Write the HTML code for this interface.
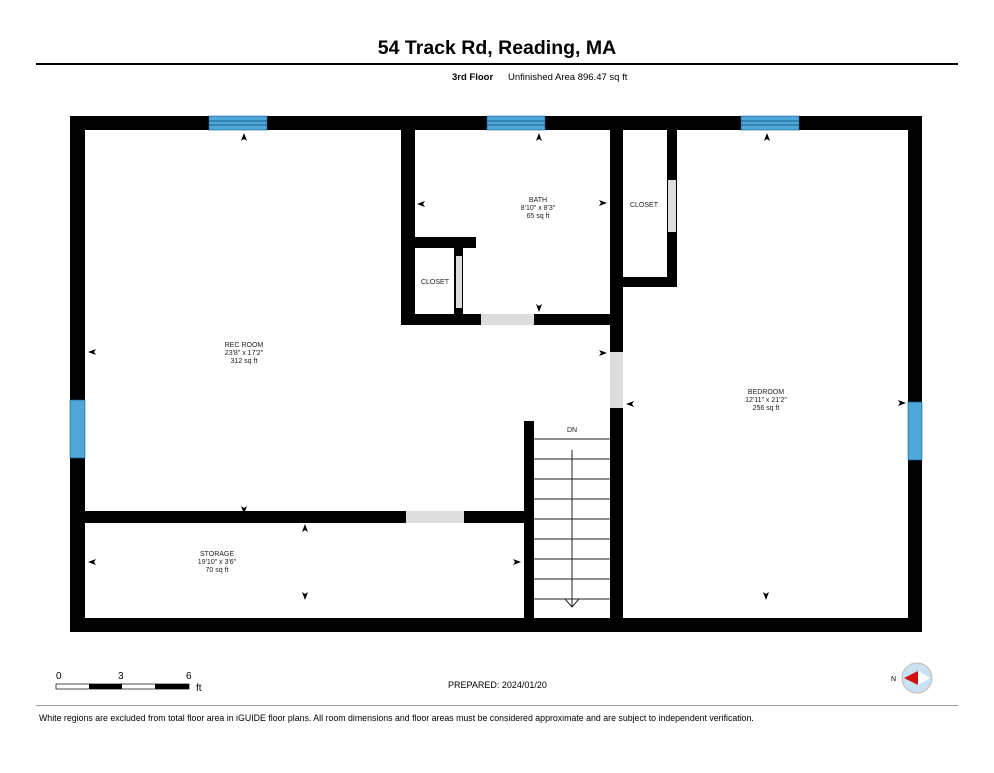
<!DOCTYPE html>
<html><head><meta charset="utf-8"><style>
body{margin:0;background:#fff;width:994px;height:768px;overflow:hidden}
svg text{font-family:"Liberation Sans",sans-serif}
</style></head><body>
<svg width="994" height="768" viewBox="0 0 994 768" xmlns="http://www.w3.org/2000/svg">
<text x="497" y="54" font-size="19.5" font-weight="bold" text-anchor="middle">54 Track Rd, Reading, MA</text>
<rect x="36" y="63" width="922" height="2" fill="#000"/>
<text x="452" y="80" font-size="9.5" font-weight="bold">3rd Floor</text>
<text x="508" y="80" font-size="9.5">Unfinished Area 896.47 sq ft</text>
<g fill="#000">
<rect x="70" y="116" width="852" height="14"/>
<rect x="70" y="618" width="852" height="14"/>
<rect x="70" y="116" width="15" height="516"/>
<rect x="908" y="116" width="14" height="516"/>
<rect x="401" y="130" width="14" height="195"/>
<rect x="401" y="314" width="221" height="11"/>
<rect x="610" y="130" width="13" height="488"/>
<rect x="415" y="237" width="61" height="11"/>
<rect x="454" y="248" width="9" height="66"/>
<rect x="667" y="130" width="10" height="157"/>
<rect x="623" y="277" width="54" height="10"/>
<rect x="85" y="511" width="449" height="12"/>
<rect x="524" y="421" width="10" height="197"/>
</g>
<g fill="#ddd">
<rect x="481" y="314" width="53" height="11"/>
<rect x="610" y="352" width="13" height="56"/>
<rect x="456" y="256" width="6" height="52"/>
<rect x="668" y="180" width="8" height="52"/>
<rect x="406" y="511" width="58" height="12"/>
</g>
<g fill="#4ea6d9" stroke="#1b5f8a" stroke-width="0.6">
<rect x="209" y="116" width="58" height="14"/>
<rect x="487" y="116" width="58" height="14"/>
<rect x="741" y="116" width="58" height="14"/>
<rect x="70" y="400" width="15" height="58"/>
<rect x="908" y="402" width="14" height="58"/>
</g>
<g stroke="#1b5f8a" stroke-width="1">
<line x1="209" y1="121" x2="267" y2="121"/><line x1="209" y1="125" x2="267" y2="125"/>
<line x1="487" y1="121" x2="545" y2="121"/><line x1="487" y1="125" x2="545" y2="125"/>
<line x1="741" y1="121" x2="799" y2="121"/><line x1="741" y1="125" x2="799" y2="125"/>
</g>
<g stroke="#222" stroke-width="1">
<line x1="534" y1="439" x2="610" y2="439"/><line x1="534" y1="459" x2="610" y2="459"/>
<line x1="534" y1="479" x2="610" y2="479"/><line x1="534" y1="499" x2="610" y2="499"/>
<line x1="534" y1="519" x2="610" y2="519"/><line x1="534" y1="539" x2="610" y2="539"/>
<line x1="534" y1="559" x2="610" y2="559"/><line x1="534" y1="579" x2="610" y2="579"/>
<line x1="534" y1="599" x2="610" y2="599"/>
<line x1="572" y1="450" x2="572" y2="607"/>
<polyline points="565,599 572,607 579,599" fill="none"/>
</g>
<g font-size="7" text-anchor="middle" fill="#222">
<text x="572" y="432">DN</text>
<text x="538" y="202">BATH</text><text x="538" y="210">8'10" x 8'3"</text><text x="538" y="218">65 sq ft</text>
<text x="644" y="207">CLOSET</text>
<text x="435" y="284">CLOSET</text>
<text x="244" y="347">REC ROOM</text><text x="244" y="355">23'8" x 17'2"</text><text x="244" y="363">312 sq ft</text>
<text x="766" y="394">BEDROOM</text><text x="766" y="402">12'11" x 21'2"</text><text x="766" y="410">256 sq ft</text>
<text x="217" y="556">STORAGE</text><text x="217" y="564">19'10" x 3'6"</text><text x="217" y="572">70 sq ft</text>
</g>
<g fill="#000">
<path d="M244,133 l-3,8 l3,-2 l3,2z"/><path d="M539,133 l-3,8 l3,-2 l3,2z"/><path d="M767,133 l-3,8 l3,-2 l3,2z"/>
<path d="M305,524 l-3,8 l3,-2 l3,2z"/>
<path d="M539,312 l-3,-8 l3,2 l3,-2z"/><path d="M244,514 l-3,-8 l3,2 l3,-2z"/>
<path d="M305,600 l-3,-8 l3,2 l3,-2z"/><path d="M766,600 l-3,-8 l3,2 l3,-2z"/>
<path d="M88,352 l8,-3 l-2,3 l2,3z"/><path d="M417,204 l8,-3 l-2,3 l2,3z"/>
<path d="M626,404 l8,-3 l-2,3 l2,3z"/><path d="M88,562 l8,-3 l-2,3 l2,3z"/>
<path d="M607,203 l-8,-3 l2,3 l-2,3z"/><path d="M607,353 l-8,-3 l2,3 l-2,3z"/>
<path d="M906,403 l-8,-3 l2,3 l-2,3z"/><path d="M521,562 l-8,-3 l2,3 l-2,3z"/>
</g>
<text x="56" y="679" font-size="10">0</text>
<text x="118" y="679" font-size="10">3</text>
<text x="186" y="679" font-size="10">6</text>
<text x="196" y="691" font-size="10">ft</text>
<rect x="56" y="684" width="133" height="5" fill="#fff" stroke="#000" stroke-width="0.7"/>
<rect x="89" y="684" width="33" height="5" fill="#000"/>
<rect x="155" y="684" width="34" height="5" fill="#000"/>
<text x="448" y="688" font-size="9">PREPARED: 2024/01/20</text>
<circle cx="917" cy="678" r="15" fill="#c8e2f4" stroke="#c9b8a8" stroke-width="1"/>
<polygon points="904,678 918,671 918,685" fill="#d01010"/>
<polygon points="918,671 930,678 918,685" fill="#fff"/>
<text x="891" y="681" font-size="7">N</text>
<rect x="36" y="705" width="922" height="1" fill="#999"/>
<text x="39" y="721" font-size="8.8">White regions are excluded from total floor area in iGUIDE floor plans. All room dimensions and floor areas must be considered approximate and are subject to independent verification.</text>
</svg>
</body></html>
